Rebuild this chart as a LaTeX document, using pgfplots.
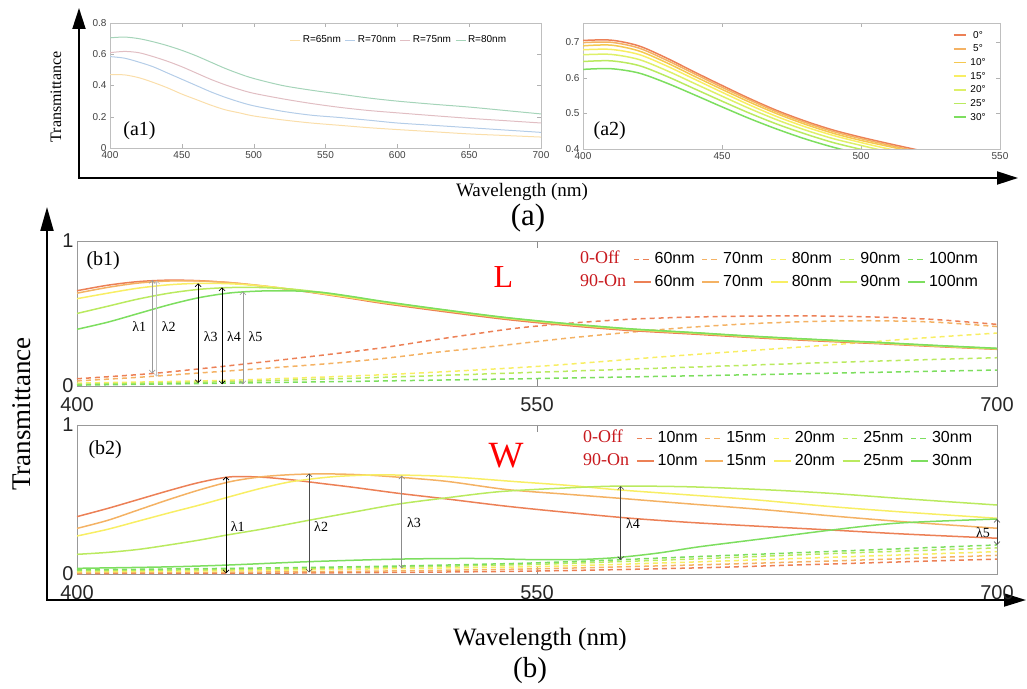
\documentclass[border=0pt]{standalone}
\usepackage{pgfplots}
\pgfplotsset{compat=1.18}
\usepackage{fontspec}
\setmainfont{Liberation Serif}
\newfontfamily\sansf{Liberation Sans}
\usetikzlibrary{arrows.meta}
\definecolor{ca}{RGB}{236,128,86}
\definecolor{cb}{RGB}{244,178,100}
\definecolor{cc}{RGB}{245,200,80}
\definecolor{cd}{RGB}{248,238,100}
\definecolor{ce}{RGB}{222,240,105}
\definecolor{cf}{RGB}{186,234,95}
\definecolor{cg}{RGB}{125,222,95}
\definecolor{p1}{RGB}{250,222,170}
\definecolor{p2}{RGB}{180,205,232}
\definecolor{p3}{RGB}{225,190,195}
\definecolor{p4}{RGB}{165,212,185}
\definecolor{offred}{RGB}{200,25,30}
\tikzset{
 lam/.style={line width=0.6pt, {Straight Barb[length=3pt,width=6pt]}-{Straight Barb[length=3pt,width=6pt]}},
 laml/.style={font=\rmfamily\fontsize{14}{14}\selectfont},
}
\pgfplotsset{
 aax/.style={scale only axis, tick align=inside, major tick length=4pt,
   axis line style={draw=black!25}, tick style={black!30},
   ticklabel style={font=\sansf\fontsize{10}{10}\selectfont, text=black!75},
   /pgf/number format/assume math mode=true},
 bax/.style={scale only axis, width=920pt, xmin=400, xmax=700, ymin=0, ymax=1,
   xtick={400,550,700}, ytick={0,1}, tick align=inside, major tick length=7pt,
   axis line style={draw=black!40, line width=0.8pt}, tick style={black!45, line width=0.8pt},
   ticklabel style={font=\sansf\fontsize{20}{20}\selectfont, text=black!85},
   xticklabel style={yshift=-8pt},
   /pgf/number format/assume math mode=true, clip=false,
   legend columns=6, legend cell align=left,
   legend style={draw=none, fill=none, inner sep=0pt,
     font=\sansf\fontsize{16}{16}\selectfont,
     nodes={inner sep=1pt, text height=12pt, text depth=3.5pt},
     row sep=5pt, column sep=2pt,
     /tikz/every even column/.append style={column sep=6pt}}},
 son/.style={line width=1.5pt, smooth},
 soff/.style={line width=1.5pt, smooth, dash pattern=on 5pt off 4pt},
}
\begin{document}
\begin{tikzpicture}[x=1pt,y=1pt]
\useasboundingbox (0,0) rectangle (1027,688);
% big frame arrows
\draw[line width=2pt, {Triangle[length=21pt,width=13pt]}-{Triangle[length=21pt,width=13pt]}] (79,680) -- (79,510) -- (1018,510);
\draw[line width=2pt, {Triangle[length=24pt,width=13pt]}-{Triangle[length=22pt,width=13pt]}] (47,481) -- (47,88) -- (1026,88);
\node[rotate=90, font=\rmfamily\fontsize{16}{16}\selectfont] at (56,591) {Transmittance};
\node[anchor=base, font=\rmfamily\fontsize{19}{19}\selectfont] at (522,491) {Wavelength (nm)};
\node[anchor=base, font=\rmfamily\fontsize{31}{31}\selectfont] at (528,462) {(a)};
\node[rotate=90, font=\rmfamily\fontsize{27}{27}\selectfont] at (22,274) {Transmittance};
\node[anchor=base, font=\rmfamily\fontsize{25}{25}\selectfont] at (540,43) {Wavelength (nm)};
\node[anchor=base, font=\rmfamily\fontsize{29}{29}\selectfont] at (530,11) {(b)};

% (a1)
\begin{axis}[aax, at={(110pt,540pt)}, anchor=south west, width=431pt, height=125pt,
  xmin=400, xmax=700, ymin=0, ymax=0.8, xtick={400,450,500,550,600,650,700},
  ytick={0,0.2,0.4,0.6,0.8}, legend columns=4,
  legend image code/.code={\draw[#1] (0pt,0pt) -- (10pt,0pt);},
  legend style={at={(axis cs:525,0.691)}, anchor=west, draw=none, fill=none, inner sep=0pt,
    font=\sansf\fontsize{10}{10}\selectfont, nodes={inner sep=1pt}, column sep=1pt,
    /tikz/every even column/.append style={column sep=3pt}}]
\addplot[p1, line width=1pt, smooth] coordinates {(400,.47)(410,.468)(420,.45)(430,.42)(440,.385)(450,.345)(460,.31)(470,.275)(480,.245)(490,.225)(500,.205)(520,.18)(540,.16)(560,.145)(580,.13)(600,.118)(625,.104)(650,.09)(675,.08)(700,.07)};
\addlegendentry{R=65nm}
\addplot[p2, line width=1pt, smooth] coordinates {(400,.585)(410,.575)(420,.55)(430,.52)(440,.48)(450,.44)(460,.40)(470,.36)(480,.325)(490,.295)(500,.27)(520,.235)(540,.21)(560,.195)(580,.178)(600,.16)(625,.145)(650,.13)(675,.115)(700,.10)};
\addlegendentry{R=70nm}
\addplot[p3, line width=1pt, smooth] coordinates {(400,.61)(410,.618)(420,.61)(430,.585)(440,.555)(450,.52)(460,.48)(470,.44)(480,.405)(490,.375)(500,.35)(520,.315)(540,.285)(560,.26)(580,.24)(600,.225)(625,.207)(650,.19)(675,.175)(700,.16)};
\addlegendentry{R=75nm}
\addplot[p4, line width=1pt, smooth] coordinates {(400,.705)(410,.71)(420,.70)(430,.68)(440,.655)(450,.625)(460,.59)(470,.55)(480,.51)(490,.475)(500,.445)(520,.40)(540,.37)(560,.345)(580,.32)(600,.30)(625,.28)(650,.262)(675,.24)(700,.218)};
\addlegendentry{R=80nm}
\node[anchor=base west, font=\rmfamily\fontsize{20}{20}\selectfont] at (rel axis cs:0.023,0.1) {(a1)};
\end{axis}

% (a2)
\begin{axis}[aax, at={(583pt,539pt)}, anchor=south west, width=417pt, height=126pt,
  xmin=400, xmax=550, ymin=0.4, ymax=0.753, xtick={400,450,500,550},
  ytick={0.4,0.5,0.6,0.7},
  legend image code/.code={\draw[#1] (0pt,0pt) -- (12pt,0pt);},
  legend style={at={(axis cs:533,0.735)}, anchor=north west, draw=none, fill=none, inner sep=0pt,
    font=\sansf\fontsize{10}{10}\selectfont, nodes={inner sep=1pt, text height=7.5pt, text depth=1.5pt},
    row sep=2.67pt, column sep=3pt}]
\addplot[ca, line width=1.5pt, smooth] coordinates {(400,.704)(410,.705)(420,.689)(430,.655)(440,.616)(450,.578)(460,.541)(470,.507)(480,.478)(490,.453)(500,.433)(510,.415)(520,.398)};
\addlegendentry{0°}
\addplot[cb, line width=1.5pt, smooth] coordinates {(400,.698)(410,.699)(420,.683)(430,.649)(440,.611)(450,.573)(460,.537)(470,.503)(480,.474)(490,.449)(500,.429)(510,.411)(520,.394)};
\addlegendentry{5°}
\addplot[cc, line width=1.5pt, smooth] coordinates {(400,.689)(410,.691)(420,.675)(430,.642)(440,.604)(450,.567)(460,.531)(470,.498)(480,.469)(490,.444)(500,.424)(510,.407)(520,.390)};
\addlegendentry{10°}
\addplot[cd, line width=1.5pt, smooth] coordinates {(400,.678)(410,.679)(420,.665)(430,.633)(440,.596)(450,.559)(460,.523)(470,.490)(480,.462)(490,.438)(500,.418)(510,.400)(520,.384)};
\addlegendentry{15°}
\addplot[ce, line width=1.5pt, smooth] coordinates {(400,.664)(410,.665)(420,.651)(430,.620)(440,.584)(450,.548)(460,.513)(470,.481)(480,.453)(490,.429)(500,.410)(510,.392)(520,.376)};
\addlegendentry{20°}
\addplot[cf, line width=1.5pt, smooth] coordinates {(400,.645)(410,.647)(420,.634)(430,.604)(440,.569)(450,.534)(460,.500)(470,.469)(480,.442)(490,.418)(500,.399)(510,.381)(520,.365)};
\addlegendentry{25°}
\addplot[cg, line width=1.5pt, smooth] coordinates {(400,.623)(410,.625)(420,.613)(430,.585)(440,.552)(450,.518)(460,.485)(470,.455)(480,.428)(490,.405)(500,.386)(510,.369)(520,.353)};
\addlegendentry{30°}
\node[anchor=base west, font=\rmfamily\fontsize{20}{20}\selectfont] at (rel axis cs:0.017,0.11) {(a2)};
\end{axis}

% (b1)
\begin{axis}[bax, at={(77pt,302pt)}, anchor=south west, height=145pt,
  legend style={at={(axis cs:563,0.934)}, anchor=north west}]
\addlegendimage{empty legend}
\addlegendentry{\textcolor{offred}{\rmfamily\fontsize{18}{18}\selectfont 0-Off}}
\addplot[ca, soff] coordinates {(400,.05)(425,.087)(454,.15)(483,.22)(500,.265)(516,.317)(530,.36)(543,.398)(560,.432)(580,.46)(600,.475)(620,.482)(640,.483)(660,.476)(680,.458)(700,.425)};
\addlegendentry{60nm}
\addplot[cb, soff] coordinates {(400,.035)(420,.06)(440,.09)(460,.12)(483,.156)(500,.19)(516,.23)(530,.26)(543,.29)(560,.33)(580,.37)(600,.405)(620,.43)(640,.445)(660,.45)(680,.44)(700,.41)};
\addlegendentry{70nm}
\addplot[cd, soff] coordinates {(400,.02)(450,.04)(500,.078)(540,.122)(560,.15)(590,.20)(620,.245)(650,.29)(675,.33)(700,.365)};
\addlegendentry{80nm}
\addplot[cf, soff] coordinates {(400,.012)(450,.03)(500,.06)(540,.088)(600,.13)(650,.165)(700,.195)};
\addlegendentry{90nm}
\addplot[cg, soff] coordinates {(400,.006)(450,.02)(500,.035)(540,.048)(600,.07)(650,.09)(700,.11)};
\addlegendentry{100nm}
\addlegendimage{empty legend}
\addlegendentry{\textcolor{offred}{\rmfamily\fontsize{18}{18}\selectfont 90-On}}
\addplot[ca, son] coordinates {(400,.657)(410,.695)(420,.72)(430,.730)(440,.726)(450,.712)(460,.69)(470,.664)(480,.634)(490,.602)(500,.569)(520,.512)(540,.459)(560,.417)(580,.383)(600,.359)(620,.334)(640,.312)(660,.293)(680,.272)(700,.253)};
\addlegendentry{60nm}
\addplot[cb, son] coordinates {(400,.64)(410,.68)(420,.71)(430,.724)(440,.724)(450,.713)(460,.692)(470,.666)(480,.637)(490,.607)(500,.575)(520,.52)(540,.467)(560,.425)(580,.39)(600,.366)(620,.34)(640,.318)(660,.298)(680,.276)(700,.256)};
\addlegendentry{70nm}
\addplot[cd, son] coordinates {(400,.602)(410,.64)(420,.675)(430,.698)(440,.708)(450,.705)(460,.691)(470,.667)(480,.638)(490,.608)(500,.577)(520,.521)(540,.468)(560,.426)(580,.391)(600,.367)(620,.341)(640,.319)(660,.299)(680,.277)(700,.257)};
\addlegendentry{80nm}
\addplot[cf, son] coordinates {(400,.50)(410,.55)(420,.60)(430,.64)(440,.667)(450,.679)(460,.679)(470,.668)(480,.645)(490,.613)(500,.58)(520,.523)(540,.47)(560,.428)(580,.393)(600,.368)(620,.342)(640,.32)(660,.30)(680,.278)(700,.258)};
\addlegendentry{90nm}
\addplot[cg, son] coordinates {(400,.391)(410,.44)(420,.50)(430,.56)(440,.61)(450,.642)(460,.655)(470,.656)(480,.645)(490,.616)(500,.583)(520,.525)(540,.472)(560,.43)(580,.395)(600,.37)(620,.344)(640,.322)(660,.302)(680,.28)(700,.26)};
\addlegendentry{100nm}
\draw[lam, black!40] (axis cs:424.5,0.731) -- (axis cs:424.5,0.087);
\draw[lam, black!25] (axis cs:426,0.727) -- (axis cs:426,0.064);
\draw[lam, black] (axis cs:439.5,0.708) -- (axis cs:439.5,0.02);
\draw[lam, black] (axis cs:447.3,0.68) -- (axis cs:447.3,0.012);
\draw[lam, black!40] (axis cs:454.1,0.652) -- (axis cs:454.1,0.012);
\node[laml] at (axis cs:420.3,0.407) {λ1};
\node[laml] at (axis cs:429.9,0.407) {λ2};
\node[laml] at (axis cs:443.6,0.34) {λ3};
\node[laml] at (axis cs:451.2,0.34) {λ4};
\node[laml] at (axis cs:458.2,0.34) {λ5};
\node[anchor=base west, font=\rmfamily\fontsize{20}{20}\selectfont] at (rel axis cs:0.0065,0.834) {(b1)};
\node[anchor=base west, text=red, font=\rmfamily\fontsize{32}{32}\selectfont] at (rel axis cs:0.449,0.676) {L};
\end{axis}

% (b2)
\begin{axis}[bax, at={(77pt,114pt)}, anchor=south west, height=149pt,
  legend style={at={(axis cs:564,0.97)}, anchor=north west}]
\addlegendimage{empty legend}
\addlegendentry{\textcolor{offred}{\rmfamily\fontsize{18}{18}\selectfont 0-Off}}
\addplot[ca, soff] coordinates {(400,.003)(450,.005)(500,.01)(550,.02)(600,.04)(650,.07)(700,.10)};
\addlegendentry{10nm}
\addplot[cb, soff] coordinates {(400,.008)(450,.012)(500,.02)(550,.035)(600,.06)(650,.09)(700,.125)};
\addlegendentry{15nm}
\addplot[cd, soff] coordinates {(400,.015)(450,.022)(500,.035)(550,.05)(600,.08)(650,.115)(700,.15)};
\addlegendentry{20nm}
\addplot[cf, soff] coordinates {(400,.022)(450,.03)(500,.045)(550,.065)(600,.10)(650,.14)(700,.175)};
\addlegendentry{25nm}
\addplot[cg, soff] coordinates {(400,.028)(450,.038)(500,.052)(550,.075)(600,.115)(650,.155)(700,.195)};
\addlegendentry{30nm}
\addlegendimage{empty legend}
\addlegendentry{\textcolor{offred}{\rmfamily\fontsize{18}{18}\selectfont 90-On}}
\addplot[ca, son] coordinates {(400,.385)(410,.44)(420,.50)(430,.56)(440,.615)(450,.652)(460,.65)(470,.632)(480,.607)(490,.582)(505,.541)(520,.505)(540,.455)(560,.413)(580,.375)(600,.346)(620,.323)(646,.295)(670,.268)(700,.24)};
\addlegendentry{10nm}
\addplot[cb, son] coordinates {(400,.306)(410,.36)(420,.43)(430,.50)(440,.565)(450,.62)(460,.652)(470,.667)(480,.672)(490,.668)(500,.657)(520,.623)(540,.567)(560,.535)(577,.508)(600,.47)(625,.43)(646,.39)(670,.35)(700,.307)};
\addlegendentry{15nm}
\addplot[cd, son] coordinates {(400,.255)(410,.30)(420,.355)(430,.41)(440,.463)(450,.52)(460,.575)(470,.62)(483,.652)(495,.664)(505,.664)(520,.655)(543,.62)(560,.595)(577,.564)(600,.53)(620,.50)(646,.452)(670,.415)(700,.374)};
\addlegendentry{20nm}
\addplot[cf, son] coordinates {(400,.132)(410,.145)(420,.165)(430,.195)(440,.228)(449,.262)(460,.30)(476,.362)(490,.415)(505,.47)(520,.51)(538,.553)(560,.578)(577,.59)(600,.585)(625,.565)(646,.541)(670,.505)(700,.463)};
\addlegendentry{25nm}
\addplot[cg, son] coordinates {(400,.038)(430,.048)(449,.06)(476,.083)(505,.10)(530,.104)(550,.096)(565,.098)(577,.112)(590,.142)(603,.183)(625,.24)(646,.295)(668,.342)(700,.369)};
\addlegendentry{30nm}
\draw[lam, black] (axis cs:448.6,0.653) -- (axis cs:448.6,0.005);
\draw[lam, black!70] (axis cs:475.7,0.675) -- (axis cs:475.7,0.01);
\draw[lam, black!45] (axis cs:505.9,0.66) -- (axis cs:505.9,0.038);
\draw[lam, black!75] (axis cs:577.3,0.59) -- (axis cs:577.3,0.094);
\draw[lam, black!75] (axis cs:700,0.369) -- (axis cs:700,0.195);
\node[laml] at (axis cs:452.4,0.318) {λ1};
\node[laml] at (axis cs:479.6,0.318) {λ2};
\node[laml] at (axis cs:509.9,0.342) {λ3};
\node[laml] at (axis cs:581.3,0.34) {λ4};
\node[laml] at (axis cs:695.4,0.275) {λ5};
\node[anchor=base west, font=\rmfamily\fontsize{20}{20}\selectfont] at (rel axis cs:0.0087,0.805) {(b2)};
\node[anchor=base west, text=red, font=\rmfamily\fontsize{37}{37}\selectfont] at (rel axis cs:0.4435,0.718) {W};
\end{axis}
\end{tikzpicture}
\end{document}
